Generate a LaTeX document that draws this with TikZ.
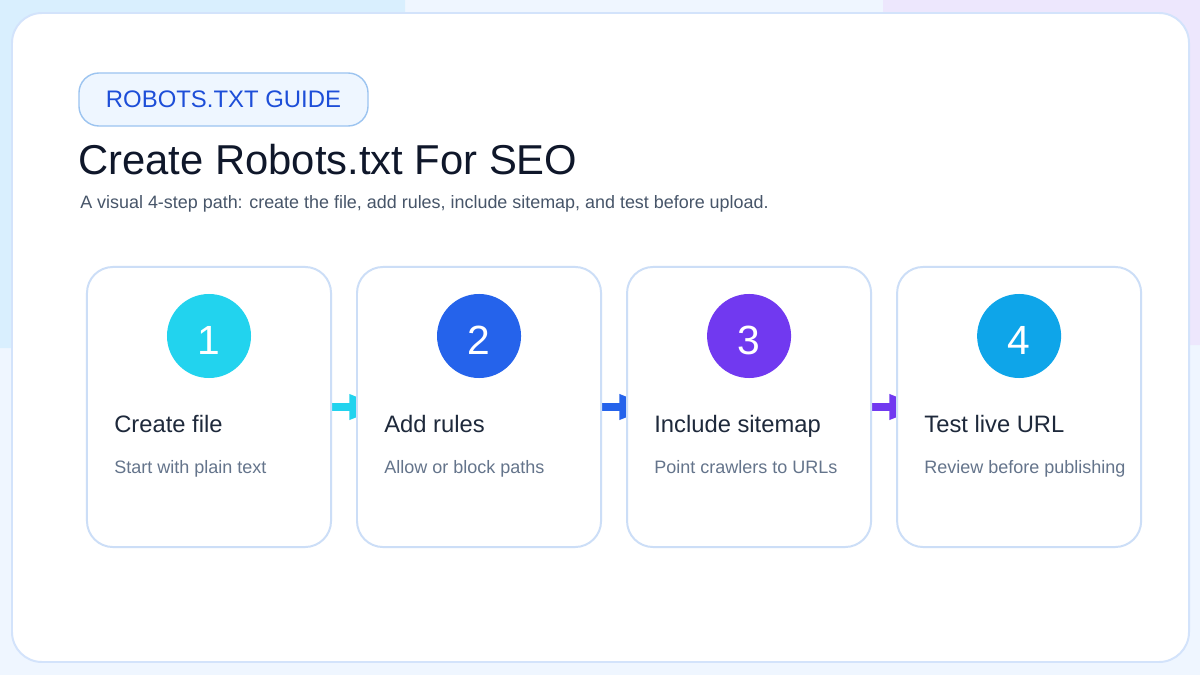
\documentclass[tikz,border=0pt]{standalone}
\usepackage{fontspec}
\setmainfont{Liberation Sans}
\usetikzlibrary{positioning, arrows.meta}

\definecolor{pagebg}{HTML}{EFF6FF}
\definecolor{blobblue}{HTML}{D9EFFE}
\definecolor{blobviolet}{HTML}{EDE7FD}
\definecolor{panelline}{HTML}{D3E3FB}
\definecolor{cardline}{HTML}{CCDEF7}
\definecolor{tagfill}{HTML}{EEF6FF}
\definecolor{tagline}{HTML}{9CC4F0}
\definecolor{tagtext}{HTML}{1D4ED8}
\definecolor{headtext}{HTML}{0F172A}
\definecolor{subtext}{HTML}{475569}
\definecolor{cardhead}{HTML}{1E293B}
\definecolor{carddesc}{HTML}{64748B}
\definecolor{stepcyan}{HTML}{22D3EE}
\definecolor{stepblue}{HTML}{2563EB}
\definecolor{stepviolet}{HTML}{7139F0}
\definecolor{stepsky}{HTML}{0EA5E9}

\pgfdeclarelayer{backdrop}
\pgfdeclarelayer{links}
\pgfsetlayers{backdrop,links,main}

\begin{document}
\begin{tikzpicture}[x=0.025cm, y=-0.025cm,
  card/.style={rectangle, draw=cardline, line width=1.4pt, fill=white, rounded corners=0.65cm, minimum width=6.1cm, minimum height=7cm},
  numdot/.style={circle, minimum size=2.1cm, inner sep=0pt, text height=27pt, text depth=0pt, text=white, font=\fontsize{29}{31}\selectfont},
  cardtitle/.style={anchor=base west, inner sep=0pt, text=cardhead, font=\fontsize{16.9}{19}\selectfont},
  carddesc/.style={anchor=base west, inner sep=0pt, text=carddesc, font=\fontsize{12.8}{15}\selectfont},
  link/.style={line width=5pt, -{Triangle[length=24pt, width=17pt]}, shorten >=-0.675cm}
]
\useasboundingbox (0,0) rectangle (1200,675);

% backdrop and panel
\begin{pgfonlayer}{backdrop}
  \begin{scope}
    \clip (0,0) rectangle (1200,675);
    \fill[pagebg] (0,0) rectangle (1200,675);
    \fill[blobblue, rounded corners=1cm] (-100,-100) rectangle (405,348);
    \fill[blobviolet, rounded corners=1cm] (883,-100) rectangle (1300,345);
  \end{scope}
  \draw[panelline, line width=1.4pt, fill=white, rounded corners=0.75cm] (12,13) rectangle (1189,662);
\end{pgfonlayer}

% heading
\node (tag) [rectangle, draw=tagline, line width=1pt, fill=tagfill, rounded corners=0.5cm, minimum width=7.225cm, minimum height=1.325cm, text=tagtext, font=\fontsize{17}{19}\selectfont] at (223.5,99.5) {ROBOTS.TXT GUIDE};
\node (title) [anchor=base west, inner sep=0pt, text=headtext, font=\fontsize{29.7}{34}\selectfont] at (78,175) {Create Robots.txt For SEO};
\node (subtitle) [anchor=base west, inner sep=0pt, text=subtext, font=\fontsize{12.75}{15}\selectfont] at (80,208) {A visual 4-step path: create the file, add rules, include sitemap, and test before upload.};

% step cards
\node (create) [card] at (209,407) {};
\node (rules) [card, right=0.6cm of create] {};
\node (sitemap) [card, right=0.6cm of rules] {};
\node (test) [card, right=0.6cm of sitemap] {};

\node (num1) [numdot, fill=stepcyan] at ([yshift=-1.75cm]create.north) {1};
\node (num2) [numdot, fill=stepblue] at ([yshift=-1.75cm]rules.north) {2};
\node (num3) [numdot, fill=stepviolet] at ([yshift=-1.75cm]sitemap.north) {3};
\node (num4) [numdot, fill=stepsky] at ([yshift=-1.75cm]test.north) {4};

\node (head1) [cardtitle] at ([xshift=0.7cm, yshift=-0.625cm]create.west) {Create file};
\node (head2) [cardtitle] at ([xshift=0.7cm, yshift=-0.625cm]rules.west) {Add rules};
\node (head3) [cardtitle] at ([xshift=0.7cm, yshift=-0.625cm]sitemap.west) {Include sitemap};
\node (head4) [cardtitle] at ([xshift=0.7cm, yshift=-0.625cm]test.west) {Test live URL};

\node (desc1) [carddesc] at ([xshift=0.7cm, yshift=-1.65cm]create.west) {Start with plain text};
\node (desc2) [carddesc] at ([xshift=0.7cm, yshift=-1.65cm]rules.west) {Allow or block paths};
\node (desc3) [carddesc] at ([xshift=0.7cm, yshift=-1.65cm]sitemap.west) {Point crawlers to URLs};
\node (desc4) [carddesc] at ([xshift=0.7cm, yshift=-1.65cm]test.west) {Review before publishing};

% links under the cards
\begin{pgfonlayer}{links}
  \draw [link, stepcyan] (create.east) -- (rules.west);
  \draw [link, stepblue] (rules.east) -- (sitemap.west);
  \draw [link, stepviolet] (sitemap.east) -- (test.west);
\end{pgfonlayer}

\end{tikzpicture}
\end{document}
